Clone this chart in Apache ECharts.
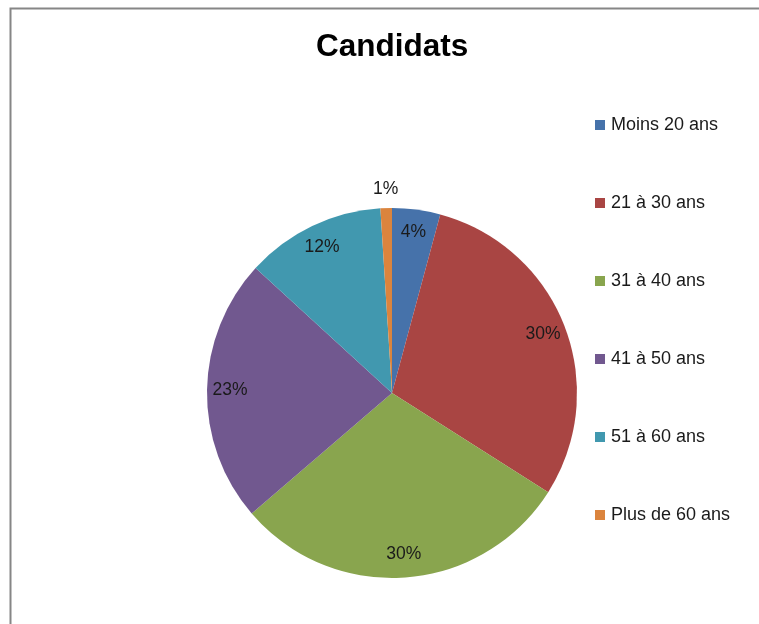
<!DOCTYPE html>
<html>
<head>
<meta charset="utf-8">
<script src="https://cdn.jsdelivr.net/npm/echarts@6/dist/echarts.min.js"></script>
<style>
html,body{margin:0;padding:0;background:#fff;}
#chart{width:759px;height:624px;}
</style>
</head>
<body>
<div id="chart"></div>
<script>
const titleText = 'Candidats';
const categories = ['Moins 20 ans', '21 à 30 ans', '31 à 40 ans', '41 à 50 ans', '51 à 60 ans', 'Plus de 60 ans'];
const values = [4.2, 29.8, 29.7, 23.1, 12.2, 1.0];
const colors = ['#4672AA', '#A94543', '#89A54E', '#71588F', '#4198AF', '#DB843D'];

const total = values.reduce((a, b) => a + b, 0);
const isSmall = values.map(v => v / total * 100 < 2);
const FONT = 'Liberation Sans, Arial, sans-serif';
const center = [392, 393];
const fmt = p => Math.round(p.percent) + '%';

const mainData = categories.map((c, i) => ({ name: c, value: values[i], itemStyle: { color: colors[i] } }));
const insideData = categories.map((c, i) => ({ name: c, value: values[i], label: { show: !isSmall[i] } }));
const outsideData = categories.map((c, i) => ({ name: c, value: values[i], label: { show: isSmall[i] } }));

const labelStyle = { position: 'inside', formatter: fmt, color: '#1a1a1a', fontSize: 17.5, fontFamily: FONT };
const transparentItem = { color: 'rgba(0,0,0,0)', borderWidth: 0 };

const chart = echarts.init(document.getElementById('chart'), null, { renderer: 'canvas' });
chart.setOption({
  animation: false,
  backgroundColor: '#fff',
  graphic: [{
    type: 'rect', left: 8, top: 6, silent: true,
    shape: { x: 0, y: 0, width: 800, height: 700 },
    style: { fill: 'none', stroke: '#868686', lineWidth: 2 }
  }],
  title: {
    text: titleText, left: 311, top: 26,
    textStyle: { fontSize: 31.5, fontWeight: 'bold', color: '#000', fontFamily: FONT }
  },
  legend: {
    orient: 'vertical', left: 595, top: 116, padding: 0,
    itemWidth: 10, itemHeight: 10, itemGap: 60,
    icon: 'rect',
    data: categories,
    textStyle: { fontSize: 18, color: '#1a1a1a', fontFamily: FONT, padding: [0, 0, 0, 1] },
    selectedMode: false
  },
  series: [
    {
      type: 'pie', center: center, radius: 185, startAngle: 90, clockwise: true,
      silent: true, label: { show: false }, labelLine: { show: false },
      itemStyle: { borderWidth: 0 }, data: mainData
    },
    {
      type: 'pie', center: center, radius: 318, startAngle: 90, clockwise: true,
      silent: true, itemStyle: transparentItem, label: labelStyle, labelLine: { show: false },
      data: insideData, legendHoverLink: false
    },
    {
      type: 'pie', center: center, radius: 402, startAngle: 90, clockwise: true,
      silent: true, itemStyle: transparentItem, label: labelStyle, labelLine: { show: false },
      data: outsideData, legendHoverLink: false
    }
  ]
});
</script>
</body>
</html>
